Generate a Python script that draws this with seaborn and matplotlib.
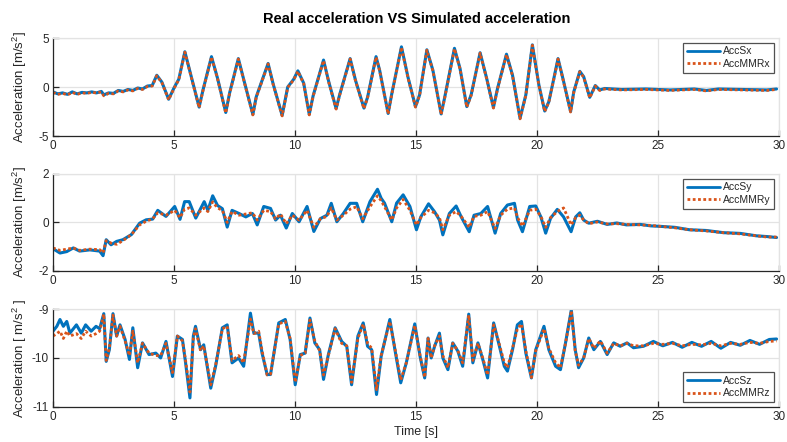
import matplotlib
matplotlib.use("Agg")
import matplotlib.pyplot as plt
import seaborn as sns

# ---------------- data ----------------
time_x = [0.0, 0.2, 0.4, 0.6, 0.8, 1.0, 1.2, 1.4, 1.6, 1.8, 2.0, 2.1, 2.3, 2.5, 2.7, 2.9, 3.1, 3.3, 3.5, 3.7,
          3.9, 4.1, 4.29, 4.5, 4.78, 5.0, 5.2, 5.45, 5.7, 6.04, 6.2, 6.55, 6.8, 7.14, 7.3, 7.66, 7.9, 8.26,
          8.4, 8.89, 9.1, 9.47, 9.7, 9.95, 10.12, 10.36, 10.59, 10.75, 11.18, 11.4, 11.7, 11.85, 12.28, 12.5,
          12.85, 13.0, 13.35, 13.5, 13.85, 14.0, 14.4, 14.67, 14.98, 15.15, 15.45, 15.7, 16.04, 16.18, 16.59,
          16.82, 17.1, 17.28, 17.65, 17.92, 18.2, 18.37, 18.74, 18.99, 19.3, 19.54, 19.81, 20.08, 20.32, 20.49,
          20.7, 20.87, 21.04, 21.39, 21.52, 21.77, 21.93, 22.18, 22.41, 22.59, 22.8, 23.5, 24.5, 25.5, 26.5,
          27.0, 27.5, 28.5, 29.5, 29.9]
acc_sx = [-0.5, -0.7, -0.6, -0.75, -0.5, -0.7, -0.55, -0.6, -0.5, -0.6, -0.45, -0.8, -0.6, -0.65, -0.35, -0.45,
          -0.25, -0.35, -0.1, -0.2, 0.1, 0.15, 1.2, 0.5, -1.25, -0.1, 0.8, 3.6, 1.2, -2.05, -0.3, 3.1, 0.9, -2.6,
          -0.6, 2.9, 0.6, -2.8, -1.0, 2.4, 0.3, -2.9, 0.0, 0.8, 1.65, 0.4, -2.8, -0.9, 2.75, 0.5, -2.2, -0.75,
          2.9, 0.7, -2.15, -1.05, 3.1, 1.7, -2.7, -0.7, 4.1, 1.0, -2.0, -0.8, 3.8, 1.7, -2.75, -1.15, 3.95, 1.9,
          -2.0, -0.8, 3.5, 0.9, -2.1, -0.15, 3.35, 1.2, -3.2, -0.8, 4.3, 0.2, -2.45, -1.5, 0.9, 2.9, 1.2, -2.5,
          -0.5, 1.6, 1.05, -1.05, 0.15, -0.3, -0.15, -0.25, -0.2, -0.3, -0.2, -0.35, -0.2, -0.25, -0.3, -0.2]
acc_mmrx = [-0.55, -0.75, -0.65, -0.8, -0.55, -0.75, -0.6, -0.65, -0.55, -0.6, -0.5, -0.9, -0.65, -0.7, -0.4,
            -0.5, -0.3, -0.4, -0.15, -0.25, 0.05, 0.1, 1.15, 0.45, -1.3, -0.15, 0.75, 3.55, 1.15, -2.1, -0.35,
            3.05, 0.85, -2.65, -0.65, 2.85, 0.55, -2.85, -1.05, 2.35, 0.25, -2.95, -0.05, 0.75, 1.6, 0.35, -2.85,
            -0.95, 2.7, 0.45, -2.25, -0.8, 2.85, 0.65, -2.2, -1.1, 3.05, 1.65, -2.75, -0.75, 4.05, 0.95, -2.05,
            -0.85, 3.75, 1.65, -2.8, -1.2, 3.9, 1.85, -2.05, -0.85, 3.45, 0.85, -2.15, -0.2, 3.3, 1.15, -3.25,
            -0.85, 4.25, 0.15, -2.5, -1.55, 0.85, 2.85, 1.15, -2.55, -0.55, 1.55, 1.0, -1.1, 0.1, -0.35, -0.2,
            -0.3, -0.25, -0.35, -0.25, -0.4, -0.25, -0.3, -0.35, -0.25]

time_y = [0.0, 0.29, 0.57, 0.84, 1.1, 1.52, 1.93, 2.07, 2.2, 2.4, 2.63, 2.89, 3.24, 3.58, 3.85, 4.12, 4.33, 4.67,
          5.03, 5.25, 5.44, 5.63, 5.9, 6.25, 6.4, 6.6, 6.8, 7.0, 7.2, 7.4, 7.69, 7.97, 8.24, 8.44, 8.71, 8.99,
          9.2, 9.4, 9.64, 9.89, 10.17, 10.5, 10.78, 11.05, 11.32, 11.5, 11.73, 12.0, 12.28, 12.55, 12.8, 13.1,
          13.41, 13.56, 13.7, 14.0, 14.2, 14.47, 14.75, 15.02, 15.2, 15.52, 15.77, 15.97, 16.11, 16.38, 16.66,
          16.87, 17.2, 17.4, 17.68, 17.96, 18.27, 18.5, 18.78, 19.07, 19.2, 19.4, 19.7, 19.95, 20.16, 20.36,
          20.56, 20.84, 21.1, 21.41, 21.6, 21.77, 21.93, 22.14, 22.5, 22.9, 23.3, 23.7, 24.27, 24.7, 25.1,
          25.7, 26.3, 27.0, 27.7, 28.4, 29.07, 29.5, 29.9]
acc_sy = [-1.08, -1.26, -1.2, -1.05, -1.18, -1.13, -1.18, -1.37, -0.71, -0.92, -0.78, -0.71, -0.5, -0.03, 0.11,
          0.14, 0.5, 0.25, 0.66, 0.13, 0.86, 0.86, 0.18, 0.86, 0.5, 1.1, 0.7, 0.57, -0.19, 0.5, 0.37, 0.23, 0.37,
          -0.1, 0.66, 0.58, 0.1, 0.3, -0.23, 0.37, 0.03, 0.66, -0.37, 0.16, 0.3, 0.79, 0.03, 0.37, 0.79, 0.79,
          0.03, 0.86, 1.37, 1.0, 0.8, 0.03, 0.8, 1.14, 0.66, -0.3, 0.23, 0.77, 0.44, 0.1, -0.51, 0.37, 0.68, 0.23,
          -0.38, 0.3, 0.37, 0.66, -0.44, 0.37, 0.72, 0.79, 0.1, -0.38, 0.66, 0.68, 0.23, -0.44, 0.17, 0.54, 0.23,
          -0.38, 0.23, 0.4, 0.1, -0.03, 0.05, -0.08, -0.02, -0.1, -0.08, -0.14, -0.16, -0.2, -0.3, -0.33, -0.42,
          -0.45, -0.55, -0.58, -0.62]
acc_mmry = [-1.05, -1.15, -1.1, -1.05, -1.15, -1.1, -1.12, -1.25, -0.75, -0.85, -0.9, -0.75, -0.5, -0.1, 0.05,
            0.15, 0.4, 0.3, 0.5, 0.2, 0.55, 0.6, 0.3, 0.6, 0.45, 0.85, 0.6, 0.5, 0.0, 0.45, 0.3, 0.35, 0.4, 0.1,
            0.5, 0.45, 0.15, 0.35, -0.05, 0.3, 0.1, 0.5, -0.2, 0.15, 0.25, 0.6, 0.1, 0.3, 0.55, 0.65, 0.15, 0.65,
            1.1, 0.9, 0.65, 0.1, 0.6, 0.95, 0.5, -0.1, 0.2, 0.5, 0.4, 0.2, -0.3, 0.3, 0.45, 0.25, -0.2, 0.25, 0.3,
            0.45, -0.25, 0.3, 0.55, 0.6, 0.2, -0.15, 0.5, 0.55, 0.25, -0.2, 0.2, 0.45, 0.6, -0.1, 0.2, 0.3, 0.1,
            -0.05, 0.02, -0.06, -0.05, -0.08, -0.1, -0.12, -0.16, -0.22, -0.3, -0.35, -0.42, -0.47, -0.55, -0.6,
            -0.6]

time_z = [0.0, 0.16, 0.29, 0.43, 0.57, 0.7, 0.97, 1.17, 1.35, 1.58, 1.78, 1.93, 2.1, 2.2, 2.33, 2.48, 2.63,
          2.77, 2.98, 3.16, 3.3, 3.5, 3.7, 3.97, 4.25, 4.45, 4.67, 4.94, 5.14, 5.35, 5.48, 5.66, 5.8, 5.89, 6.1,
          6.23, 6.52, 6.72, 7.0, 7.2, 7.4, 7.67, 7.88, 8.16, 8.3, 8.5, 8.64, 8.85, 8.99, 9.33, 9.6, 9.8, 10.01,
          10.22, 10.42, 10.62, 10.82, 11.02, 11.18, 11.38, 11.66, 11.93, 12.14, 12.34, 12.6, 12.82, 13.0, 13.17,
          13.37, 13.56, 13.92, 14.13, 14.37, 14.6, 14.95, 15.17, 15.36, 15.5, 15.63, 15.77, 15.97, 16.11, 16.32,
          16.52, 16.73, 16.93, 17.18, 17.35, 17.56, 17.76, 17.96, 18.21, 18.38, 18.65, 18.78, 18.99, 19.19,
          19.36, 19.54, 19.77, 19.95, 20.29, 20.49, 20.77, 20.97, 21.18, 21.42, 21.58, 21.72, 21.93, 22.14,
          22.35, 22.62, 22.9, 23.17, 23.44, 23.72, 23.99, 24.4, 24.81, 25.2, 25.6, 26.0, 26.4, 26.8, 27.2, 27.6,
          28.0, 28.4, 28.8, 29.2, 29.6, 29.9]
acc_sz = [-9.45, -9.35, -9.21, -9.35, -9.25, -9.49, -9.32, -9.49, -9.32, -9.45, -9.35, -9.4, -9.09, -10.07,
          -9.83, -9.09, -9.55, -9.32, -9.62, -10.03, -9.38, -10.2, -9.69, -9.93, -9.9, -10.0, -9.66, -10.38,
          -9.55, -9.62, -10.1, -10.82, -9.55, -9.35, -9.83, -9.73, -10.62, -10.17, -9.38, -9.32, -10.1, -10.0,
          -10.17, -9.08, -9.49, -9.49, -9.9, -10.34, -10.34, -9.28, -9.21, -9.62, -10.55, -9.93, -9.9, -9.18,
          -9.69, -9.83, -10.44, -9.93, -9.38, -9.66, -9.76, -10.55, -9.55, -9.28, -9.76, -9.83, -10.75, -9.97,
          -9.21, -9.83, -10.51, -10.1, -9.3, -9.97, -10.41, -9.59, -10.0, -9.76, -9.49, -10.0, -10.24, -9.69,
          -9.86, -10.17, -9.1, -10.1, -9.69, -10.03, -10.41, -9.28, -9.62, -10.17, -10.27, -9.83, -9.32, -9.25,
          -9.9, -10.41, -9.83, -9.35, -9.83, -10.17, -10.24, -9.69, -9.01, -9.83, -10.2, -10.0, -9.59, -9.83,
          -9.66, -9.93, -9.69, -9.76, -9.69, -9.79, -9.76, -9.66, -9.75, -9.68, -9.78, -9.68, -9.76, -9.66, -9.8,
          -9.68, -9.74, -9.64, -9.72, -9.62, -9.61]
acc_mmrz = [-9.55, -9.5, -9.45, -9.6, -9.45, -9.55, -9.5, -9.6, -9.45, -9.55, -9.5, -9.45, -9.1, -10.05, -9.8,
            -9.12, -9.55, -9.35, -9.65, -9.95, -9.45, -10.1, -9.7, -9.9, -9.95, -9.95, -9.7, -10.3, -9.55, -9.65,
            -10.05, -10.7, -9.6, -9.4, -9.85, -9.75, -10.55, -10.15, -9.4, -9.35, -10.05, -9.95, -10.1, -9.2,
            -9.5, -9.45, -9.85, -10.35, -10.33, -9.3, -9.25, -9.6, -10.5, -9.95, -9.9, -9.22, -9.65, -9.85,
            -10.35, -9.95, -9.4, -9.7, -9.75, -10.5, -9.6, -9.3, -9.7, -9.8, -10.65, -9.95, -9.25, -9.8, -10.45,
            -10.1, -9.33, -9.95, -10.4, -9.6, -10.0, -9.75, -9.55, -9.95, -10.2, -9.7, -9.85, -10.1, -9.12,
            -10.05, -9.7, -10.0, -10.35, -9.32, -9.6, -10.1, -10.2, -9.8, -9.4, -9.3, -9.85, -10.4, -9.85, -9.4,
            -9.8, -10.1, -10.2, -9.7, -9.03, -9.85, -10.15, -10.0, -9.6, -9.8, -9.65, -9.9, -9.7, -9.75, -9.7,
            -9.75, -9.75, -9.7, -9.72, -9.7, -9.75, -9.72, -9.73, -9.7, -9.75, -9.7, -9.72, -9.68, -9.7, -9.66,
            -9.65]

x_ticks = [0, 5, 10, 15, 20, 25, 30]
panels = [
    dict(t=time_x, real=acc_sx, sim=acc_mmrx, names=("AccSx", "AccMMRx"), ylim=(-5, 5), yticks=[-5, 0, 5],
         ylabel="Acceleration [m/s$^2$]", legend_loc="upper right"),
    dict(t=time_y, real=acc_sy, sim=acc_mmry, names=("AccSy", "AccMMRy"), ylim=(-2, 2), yticks=[-2, 0, 2],
         ylabel="Acceleration [m/s$^2$]", legend_loc="upper right"),
    dict(t=time_z, real=acc_sz, sim=acc_mmrz, names=("AccSz", "AccMMRz"), ylim=(-11, -9), yticks=[-11, -10, -9],
         ylabel="Acceleration [ m/s$^2$ ]", legend_loc="lower right"),
]

# ---------------- style ----------------
sns.set_theme(style="white")
plt.rcParams["font.family"] = ["Liberation Sans", "DejaVu Sans"]
plt.rcParams["axes.unicode_minus"] = False
plt.rcParams["mathtext.fontset"] = "custom"
plt.rcParams["mathtext.rm"] = "Liberation Sans"
plt.rcParams["mathtext.it"] = "Liberation Sans"

BLUE = "#0072BD"
ORANGE = "#D95319"
AX_COL = "#262626"
GRID_COL = "#e3e3e3"
DOTS = (0, (1.0, 0.9))

fig = plt.figure(figsize=(7.87, 4.42), dpi=100)
positions = [(0.0673, 0.6923, 0.9225, 0.2217),
             (0.0673, 0.3869, 0.9225, 0.2195),
             (0.0673, 0.0799, 0.9225, 0.2204)]

axes = []
for pos, p in zip(positions, panels):
    ax = fig.add_axes(pos)
    axes.append(ax)
    sns.lineplot(x=p["t"], y=p["real"], ax=ax, color=BLUE, linewidth=2.2, estimator=None, sort=False,
                 label=p["names"][0])
    sns.lineplot(x=p["t"], y=p["sim"], ax=ax, color=ORANGE, linewidth=2.0, estimator=None, sort=False,
                 label=p["names"][1])
    ax.lines[1].set_linestyle(DOTS)
    ax.set_xlim(0, 30)
    ax.set_ylim(*p["ylim"])
    ax.set_xticks(x_ticks)
    ax.set_yticks(p["yticks"])
    ax.set_xticklabels([str(v) for v in x_ticks])
    ax.set_yticklabels([str(v) for v in p["yticks"]])
    ax.grid(True, color=GRID_COL, linewidth=0.9)
    ax.set_axisbelow(True)
    for side in ("left", "bottom"):
        ax.spines[side].set_color(AX_COL)
        ax.spines[side].set_linewidth(0.9)
    for side in ("top", "right"):
        ax.spines[side].set_color(GRID_COL)
        ax.spines[side].set_linewidth(0.9)
    ax.tick_params(axis="both", direction="in", length=4, width=0.9, color=AX_COL,
                   labelsize=8.5, labelcolor=AX_COL, pad=3, bottom=True, left=True)
    ax.set_ylabel(p["ylabel"], fontsize=9.5, color=AX_COL, labelpad=4)
    ax.yaxis.set_label_coords(-0.033, 0.5)
    ax.set_xlabel("")
    leg = ax.legend(loc=p["legend_loc"], fontsize=7.5, frameon=True, fancybox=False,
                    handlelength=3.2, handletextpad=0.3, borderpad=0.35, labelspacing=0.25,
                    borderaxespad=0.45)
    leg.get_frame().set_edgecolor("#262626")
    leg.get_frame().set_linewidth(0.9)
    for h in leg.get_lines():
        h.set_linewidth(2.0)
    leg.get_lines()[1].set_linestyle(DOTS)

axes[2].set_xlabel("Time [s]", fontsize=9, color=AX_COL, labelpad=2)
fig.text(0.529, 0.958, "Real acceleration VS Simulated acceleration", ha="center", va="center",
         fontsize=10.5, fontweight="bold", color="#000000")

fig.savefig("out.png", dpi=100)
